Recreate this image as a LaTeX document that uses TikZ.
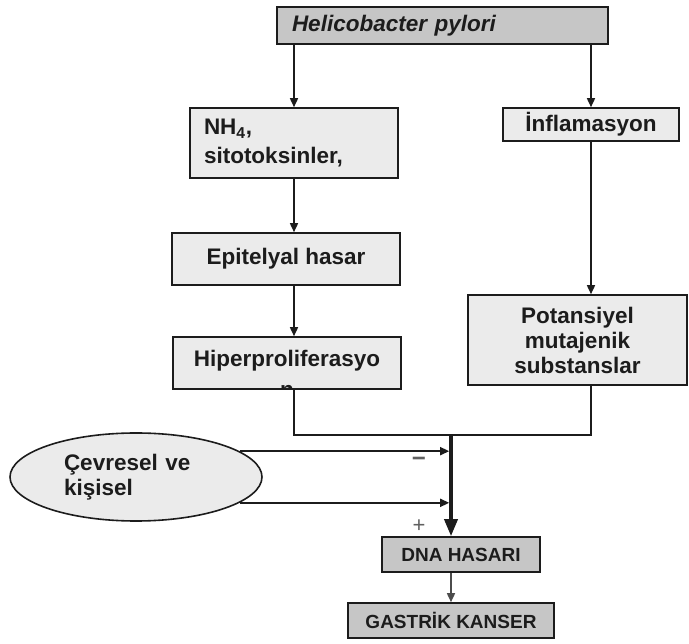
\documentclass[tikz,border=0pt]{standalone}
\usepackage{fontspec}
\setmainfont{Liberation Sans}
\usetikzlibrary{shapes.geometric,arrows.meta}

\definecolor{boxgray}{HTML}{EBEBEB}
\definecolor{headgray}{HTML}{C6C6C6}
\definecolor{inkgray}{HTML}{1C1C1C}

\begin{document}
\begin{tikzpicture}[x=1pt, y=-1pt, line width=1.6pt, draw=inkgray,
    every node/.style={font=\fontsize{22.5}{25}\selectfont\bfseries, text=inkgray},
    box/.style={draw=inkgray, fill=boxgray, inner sep=0pt, align=center},
    arr/.style={-{Triangle[length=9pt,width=8pt]}}]

    \useasboundingbox (0,0) rectangle (689,644);

    % Top box
    \node[box, fill=headgray, minimum width=331, minimum height=37, text width=301, inner xsep=15,
          align=left, font=\fontsize{22.5}{25}\selectfont\bfseries\itshape] (hp) at (442.5,25.5) {Helicobacter pylori};

    % Left branch
    \node[box, minimum width=208, minimum height=70, text width=180, inner xsep=14, align=left,
          font=\fontsize{22.5}{29}\selectfont\bfseries] (nh) at (294,143) {NH\textsubscript{4},\\sitotoksinler,};
    \node[box, minimum width=228, minimum height=52] (epi) at (286,259) {Epitelyal hasar};
    \node[box, minimum width=228, minimum height=52] (hip) at (287,363) {};
    \begin{scope}
        \clip (hip.south west) rectangle (hip.north east);
        \node[anchor=base] (hiptop) at (287,367) {Hiperproliferasyo};
        \node[anchor=base] (hipcut) at (287,398) {n};
    \end{scope}

    % Right branch
    \node[box, minimum width=176, minimum height=33] (inf) at (591,124.5) {İnflamasyon};
    \node[box, minimum width=219, minimum height=90] (pot) at (577.5,340) {Potansiyel\\mutajenik\\substanslar};

    % Outside factors
    \node[ellipse, draw=inkgray, fill=boxgray, minimum width=252, minimum height=88, inner sep=0pt,
          text width=144, align=left] (ell) at (136,477) {Çevresel ve\\kişisel};

    % Result
    \node[box, fill=headgray, minimum width=158, minimum height=35,
          font=\fontsize{19}{22}\selectfont\bfseries] (dna) at (461,554.5) {DNA HASARI};
    \node[box, fill=headgray, minimum width=206, minimum height=35,
          font=\fontsize{19}{22}\selectfont\bfseries] (gk) at (451,620.5) {GASTRİK KANSER};

    \coordinate (join) at (451,435);

    % Connectors
    \draw[arr] (nh.north |- hp.south) -- (nh.north);
    \draw[arr] (inf.north |- hp.south) -- (inf.north);
    \draw[arr] (nh.south) -- (epi.north -| nh.south);
    \draw[arr] (epi.south -| nh.south) -- (hip.north -| nh.south);
    \draw[arr] (inf.south) -- (pot.north -| inf.south);
    \draw (hip.south -| nh.south) -- (join -| nh.south) -- (join) -- (join -| inf.south) -- (pot.south -| inf.south);

    \draw[line width=3.5pt, -{Triangle[length=17pt,width=13pt]}] (join) -- (dna.north -| join);
    \draw[arr, shorten >=1.8pt] (ell.14) -- (ell.14 -| join);
    \draw[arr, shorten >=1.8pt] (ell.-14) -- (ell.-14 -| join);
    \node[font=\fontsize{24}{24}\selectfont\bfseries, text=gray!75!black] (minus) at (419,462) {−};
    \node[font=\fontsize{22}{22}\selectfont, text=gray!75!black] (plus) at (419,526) {+};

    \draw[arr, draw=gray!60!black] (dna.south -| join) -- (gk.north -| join);
\end{tikzpicture}
\end{document}
